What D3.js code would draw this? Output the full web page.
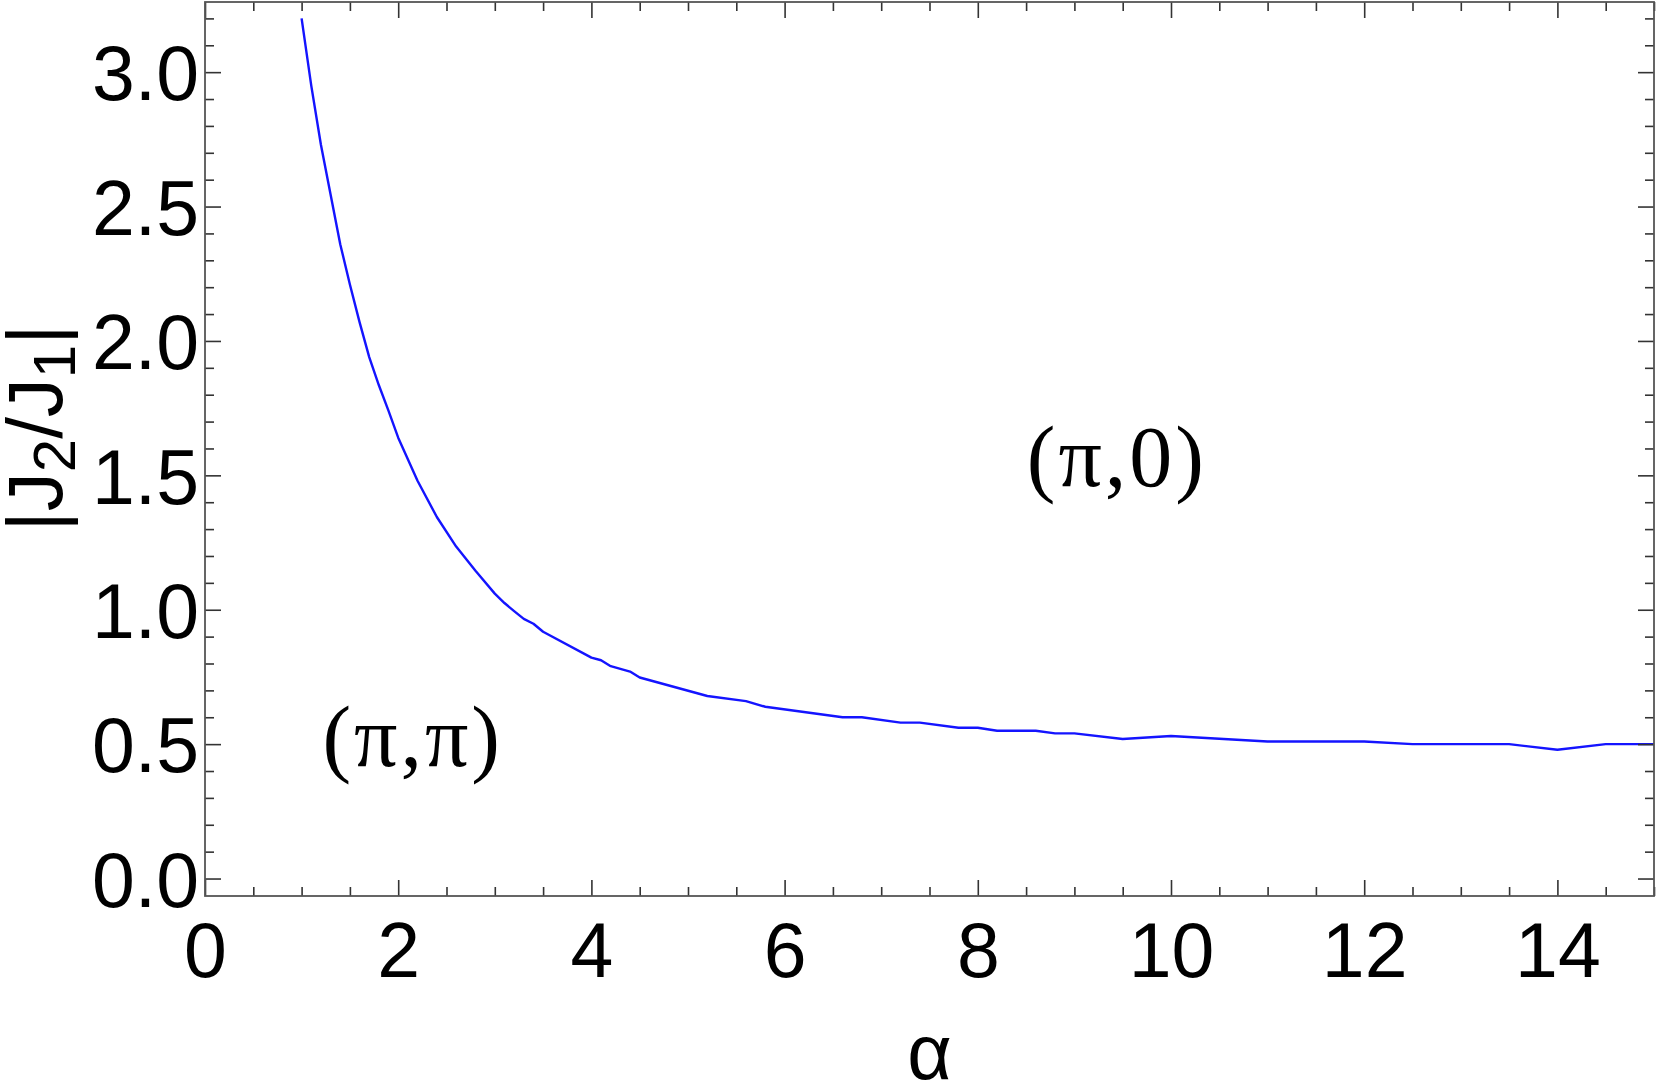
<!DOCTYPE html>
<html>
<head>
<meta charset="utf-8">
<script src="https://cdn.jsdelivr.net/npm/d3@7"></script>
<style>
  html, body { margin: 0; padding: 0; background: #fff; }
  svg { display: block; }
</style>
</head>
<body>
<svg id="chart" width="1656" height="1087"></svg>
<script>
// ---- data ----
const alpha = [1.0,1.1,1.2,1.3,1.4,1.5,1.6,1.7,1.8,1.9,2.0,2.2,2.4,2.6,2.8,3.0,3.1,3.2,3.3,3.4,3.5,4.0,4.1,4.2,4.4,4.5,5.2,5.6,5.8,6.6,6.8,7.2,7.4,7.8,8.0,8.2,8.6,8.8,9.0,9.5,10.0,11.0,12.0,12.5,13.5,14.0,14.5,15.0];
const ratio = [3.20,2.95,2.73,2.545,2.36,2.21,2.07,1.94,1.835,1.74,1.64,1.48,1.345,1.235,1.145,1.06,1.025,0.995,0.966,0.948,0.918,0.822,0.812,0.79,0.770,0.748,0.679,0.660,0.639,0.600,0.600,0.580,0.580,0.561,0.561,0.550,0.550,0.540,0.540,0.519,0.530,0.510,0.510,0.500,0.500,0.479,0.500,0.500];
const xMajorTicks = [0,2,4,6,8,10,12,14];
const yMajorTicks = [0.0,0.5,1.0,1.5,2.0,2.5,3.0];
const regionLabels = [{text:"(π,0)", a:9.44, v:1.46}, {text:"(π,π)", a:2.15, v:0.42}];

// ---- layout ----
const svg = d3.select("#chart");
const L = 205, R = 1654, T = 2, B = 896;
const x = d3.scaleLinear().domain([0, 15]).range([L, R]);
const y = d3.scaleLinear().domain([-0.065, 3.261]).range([B, T]);

const xMinor = d3.range(0, 15.01, 0.5).filter(v => !xMajorTicks.includes(v));
const yMinor = d3.range(0, 3.26, 0.1).map(v => Math.round(v*10)/10).filter(v => !yMajorTicks.includes(v));

const frameColor = "#555";
const tickColor = "#333";
const fontSans = "'Liberation Sans', Arial, sans-serif";
const fs = 77;

// curve
const line = d3.line().x((d,i) => x(alpha[i])).y((d,i) => y(ratio[i]));
svg.append("path")
  .datum(ratio)
  .attr("d", line)
  .attr("fill", "none")
  .attr("stroke", "#1414ff")
  .attr("stroke-width", 2.4)
  .attr("stroke-linejoin", "round");

function styleAxis(g) {
  g.select(".domain").remove();
  g.selectAll(".tick line").attr("stroke", tickColor).attr("stroke-width", 1.6);
}
// bottom
const gB = svg.append("g").attr("transform", `translate(0,${B})`)
  .call(d3.axisBottom(x).tickValues(xMajorTicks).tickSize(-16).tickPadding(26).tickFormat(d3.format("d")));
styleAxis(gB);
gB.selectAll(".tick text").attr("font-family", fontSans).attr("font-size", fs).attr("fill", "#000")
  .attr("dy", "0.71em");
svg.append("g").attr("transform", `translate(0,${B})`)
  .call(d3.axisBottom(x).tickValues(xMinor).tickSize(-9).tickFormat("")).call(styleAxis);
// top
svg.append("g").attr("transform", `translate(0,${T})`)
  .call(d3.axisTop(x).tickValues(xMajorTicks).tickSize(-16).tickFormat("")).call(styleAxis);
svg.append("g").attr("transform", `translate(0,${T})`)
  .call(d3.axisTop(x).tickValues(xMinor).tickSize(-9).tickFormat("")).call(styleAxis);
// left
const gL = svg.append("g").attr("transform", `translate(${L},0)`)
  .call(d3.axisLeft(y).tickValues(yMajorTicks).tickSize(-16).tickPadding(6).tickFormat(d3.format(".1f")));
styleAxis(gL);
gL.selectAll(".tick text").attr("font-family", fontSans).attr("font-size", fs).attr("fill", "#000")
  .attr("dy", "0.36em");
svg.append("g").attr("transform", `translate(${L},0)`)
  .call(d3.axisLeft(y).tickValues(yMinor).tickSize(-9).tickFormat("")).call(styleAxis);
// right
svg.append("g").attr("transform", `translate(${R},0)`)
  .call(d3.axisRight(y).tickValues(yMajorTicks).tickSize(-16).tickFormat("")).call(styleAxis);
svg.append("g").attr("transform", `translate(${R},0)`)
  .call(d3.axisRight(y).tickValues(yMinor).tickSize(-9).tickFormat("")).call(styleAxis);

// frame
svg.append("rect").attr("x", L).attr("y", T).attr("width", R - L).attr("height", B - T)
  .attr("fill", "none").attr("stroke", frameColor).attr("stroke-width", 1.8);

// axis titles
svg.append("text").attr("x", (L + R) / 2).attr("y", 1079)
  .attr("text-anchor", "middle").attr("font-family", fontSans).attr("font-size", fs)
  .text("α");

const yt = svg.append("text")
  .attr("transform", `translate(62,${428}) rotate(-90)`)
  .attr("text-anchor", "middle").attr("font-family", fontSans).attr("font-size", 78);
yt.append("tspan").text("|J");
yt.append("tspan").attr("font-size", 60).attr("dy", 13).text("2");
yt.append("tspan").attr("dy", -13).text("/J");
yt.append("tspan").attr("font-size", 60).attr("dy", 13).text("1");
yt.append("tspan").attr("dy", -13).text("|");

// region labels
svg.selectAll("text.region").data(regionLabels).enter().append("text")
  .attr("class", "region")
  .attr("x", d => x(d.a)).attr("y", d => y(d.v))
  .attr("text-anchor", "middle")
  .attr("font-family", "'Liberation Serif', 'Times New Roman', serif")
  .attr("font-size", 86)
  .attr("letter-spacing", 3)
  .text(d => d.text);
</script>
</body>
</html>
